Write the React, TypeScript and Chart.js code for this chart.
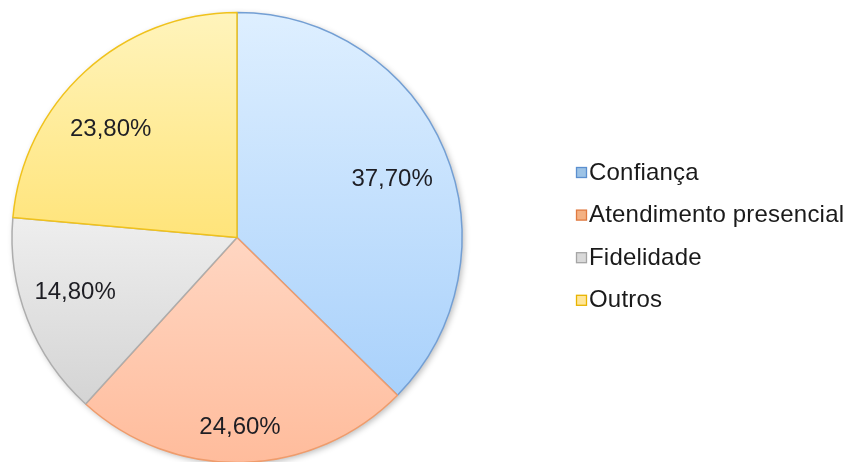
import React, { useEffect, useRef } from "react";
import { Chart, registerables } from "chart.js";

Chart.register(...registerables);

const categories = ["Confiança", "Atendimento presencial", "Fidelidade", "Outros"];
const values = [37.7, 24.6, 14.8, 23.8];

const sliceTop = ["#deefff", "#ffd6c2", "#eeeeee", "#fff4bc"];
const sliceBottom = ["#a9d1fb", "#ffbc9c", "#d4d4d4", "#ffe47a"];
const sliceBorder = ["#739fd4", "#ef9c6c", "#adadad", "#f0c21c"];
const legendFill = ["#9dc3e6", "#f4b183", "#d9d9d9", "#ffe699"];
const legendBorder = ["#5b8fcf", "#e07a40", "#a5a5a5", "#e8b400"];

// label placement: fraction of radius and angle shift (degrees)
const labelRadius = [0.738, 0.84, 0.758, 0.742];
const labelShift = [1.8, 0.7, 3.0, -6.7];

const FONT = '"Liberation Sans", Arial, sans-serif';

const fmt = (v: number) => v.toFixed(2).replace(".", ",") + "%";

const gradientPlugin = {
  id: "sliceGradient",
  beforeDatasetsDraw(chart: any) {
    const ctx = chart.ctx;
    const meta = chart.getDatasetMeta(0);
    if (!meta.data.length) return;
    const first = meta.data[0];
    const { x, y, outerRadius } = first.getProps(["x", "y", "outerRadius"], true);
    ctx.save();
    ctx.shadowColor = "rgba(0,0,0,0.28)";
    ctx.shadowBlur = 6;
    ctx.shadowOffsetX = 2;
    ctx.shadowOffsetY = 2;
    ctx.beginPath();
    ctx.arc(x, y, outerRadius, 0, Math.PI * 2);
    ctx.fillStyle = "#ffffff";
    ctx.fill();
    ctx.restore();
    meta.data.forEach((el: any, i: number) => {
      const p = el.getProps(["x", "y", "startAngle", "endAngle", "outerRadius"], true);
      let yMin = p.y;
      let yMax = p.y;
      const n = 60;
      for (let k = 0; k <= n; k++) {
        const a = p.startAngle + ((p.endAngle - p.startAngle) * k) / n;
        const yy = p.y + Math.sin(a) * p.outerRadius;
        yMin = Math.min(yMin, yy);
        yMax = Math.max(yMax, yy);
      }
      const g = ctx.createLinearGradient(0, yMin, 0, yMax);
      g.addColorStop(0, sliceTop[i]);
      g.addColorStop(1, sliceBottom[i]);
      el.options.backgroundColor = g;
    });
  },
};

const labelPlugin = {
  id: "sliceLabels",
  afterDatasetsDraw(chart: any) {
    const ctx = chart.ctx;
    const meta = chart.getDatasetMeta(0);
    ctx.save();
    ctx.font = `24px ${FONT}`;
    ctx.fillStyle = "#1e1e24";
    ctx.textAlign = "center";
    ctx.textBaseline = "middle";
    meta.data.forEach((el: any, i: number) => {
      const p = el.getProps(["x", "y", "startAngle", "endAngle", "outerRadius"], true);
      const mid = (p.startAngle + p.endAngle) / 2 + (labelShift[i] * Math.PI) / 180;
      const r = p.outerRadius * labelRadius[i];
      ctx.fillText(fmt(values[i]), p.x + Math.cos(mid) * r, p.y + Math.sin(mid) * r + 1);
    });
    ctx.restore();
  },
};

const legendPlugin = {
  id: "sideLegend",
  afterDraw(chart: any) {
    const ctx = chart.ctx;
    const x0 = 576;
    const y0 = 172;
    const step = 42.6;
    ctx.save();
    ctx.font = `24px ${FONT}`;
    (ctx as any).letterSpacing = "0.2px";
    ctx.textBaseline = "middle";
    ctx.textAlign = "left";
    categories.forEach((c, i) => {
      const cy = y0 + i * step;
      ctx.fillStyle = legendFill[i];
      ctx.fillRect(x0 + 0.5, cy - 4.5, 10, 10);
      ctx.strokeStyle = legendBorder[i];
      ctx.lineWidth = 1.3;
      ctx.strokeRect(x0 + 0.5, cy - 4.5, 10, 10);
      ctx.fillStyle = "#1a1a1a";
      ctx.fillText(c, 589, cy + 1);
    });
    ctx.restore();
  },
};

export default function App() {
  const ref = useRef<HTMLCanvasElement | null>(null);
  useEffect(() => {
    if (!ref.current) return;
    const chart = new Chart(ref.current, {
      type: "pie",
      data: {
        labels: categories,
        datasets: [
          {
            data: values,
            backgroundColor: sliceTop,
            borderColor: sliceBorder,
            borderWidth: 1.5,
          },
        ],
      },
      options: {
        responsive: false,
        animation: false,
        devicePixelRatio: 1,
        radius: 225,
        layout: { padding: { left: 12, top: 13, right: 384, bottom: 0 } },
        plugins: {
          legend: { display: false },
          tooltip: { enabled: false },
        },
      } as any,
      plugins: [gradientPlugin, labelPlugin, legendPlugin],
    });
    return () => chart.destroy();
  }, []);
  return (
    <div style={{ position: "fixed", left: 0, top: 0, width: 846, height: 462, background: "#fff" }}>
      <canvas ref={ref} width={846} height={462} style={{ display: "block" }} />
    </div>
  );
}
